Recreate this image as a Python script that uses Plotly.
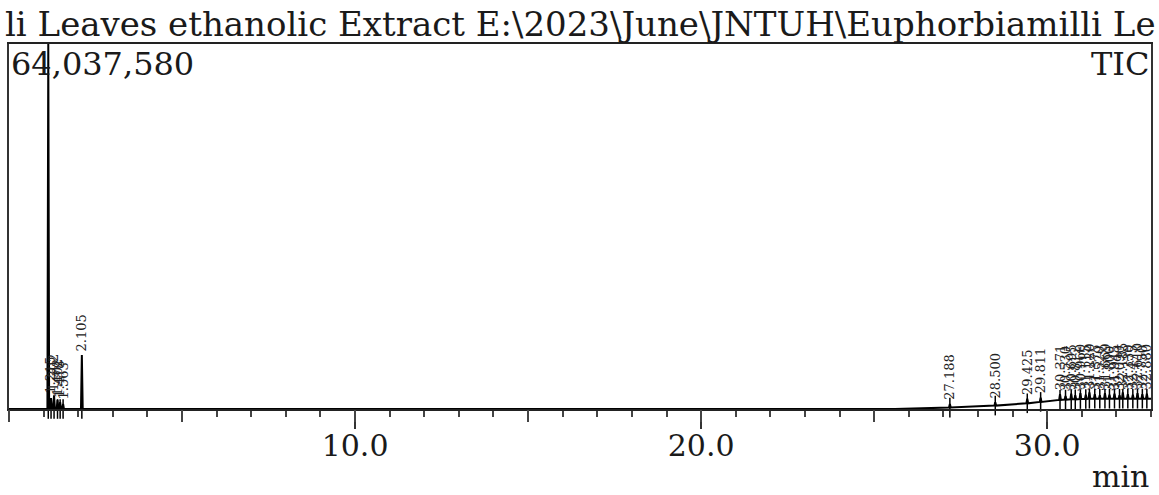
import plotly.graph_objects as go

# ---- data ----
title_text = "li Leaves ethanolic Extract E:\\2023\\June\\JNTUH\\Euphorbiamilli Le"
max_intensity = 64037580
x_max_min = 33.0

peak_rt = [1.135, 1.215, 1.302, 1.402, 1.478, 1.563, 2.105,
           27.188, 28.500, 29.425, 29.811, 30.371, 30.530, 30.695, 30.812,
           30.960, 31.115, 31.220, 31.375, 31.520, 31.669, 31.800, 31.945,
           32.090, 32.185, 32.330, 32.475, 32.610, 32.750, 32.880]
peak_height = [64037580, 1900000, 2400000, 1600000, 1200000, 900000, 9450000,
               900000, 1200000, 1800000, 2000000, 2600000, 2300000, 2700000, 2400000,
               2800000, 2500000, 2900000, 2600000, 2400000, 2800000, 2500000, 2700000,
               2400000, 2900000, 2600000, 2500000, 2800000, 2600000, 2700000]
peak_base = [0, 0, 0, 0, 0, 0, 0,
             250000, 600000, 1000000, 1250000, 1600000, 1650000, 1700000, 1700000,
             1750000, 1750000, 1800000, 1800000, 1800000, 1800000, 1800000, 1800000,
             1800000, 1800000, 1800000, 1800000, 1800000, 1800000, 1800000]
peak_labels = ["1.135", "1.215", "1.302", "1.402", "1.478", "1.563", "2.105",
               "27.188", "28.500", "29.425", "29.811", "30.371", "30.530", "30.695", "30.812",
               "30.960", "31.115", "31.220", "31.375", "31.520", "31.669", "31.800", "31.945",
               "32.090", "32.185", "32.330", "32.475", "32.610", "32.750", "32.880"]
show_label = [False, True, True, True, True, True, True] + [True] * 23

baseline_t = [0.0, 25.6, 33.0]
baseline_v = [0, 0, 1800000]

major_ticks = [10, 20, 30]
major_tick_text = ["10.0", "20.0", "30.0"]

# ---- build the trace (baseline anchors + peak triplets) ----
half_w = 0.025
pts = list(zip(baseline_t, baseline_v))
for rt, h, b in zip(peak_rt, peak_height, peak_base):
    pts += [(rt - half_w, b), (rt, h), (rt + half_w, b)]
pts.sort(key=lambda p: p[0])
tx = [p[0] for p in pts]
ty = [p[1] for p in pts]

SERIF = "DejaVu Serif"
INK = "#1a1a1a"

fig = go.Figure()
fig.add_trace(go.Scatter(x=tx, y=ty, mode="lines",
                         line=dict(color="black", width=2),
                         hoverinfo="skip", showlegend=False))
# peak integration marks
fig.add_trace(go.Scatter(x=peak_rt, y=peak_base, mode="markers",
                         marker=dict(symbol="line-ns", size=14,
                                     line=dict(color="black", width=1.5)),
                         cliponaxis=False, hoverinfo="skip", showlegend=False))
# helper trace for the 5-min tick axis
fig.add_trace(go.Scatter(x=[None], y=[None], xaxis="x2", showlegend=False,
                         hoverinfo="skip"))

for rt, h, lab, show in zip(peak_rt, peak_height, peak_labels, show_label):
    if not show:
        continue
    fig.add_annotation(x=rt, y=h, text=lab, textangle=-90, showarrow=False,
                       xanchor="center", yanchor="bottom", yshift=2,
                       font=dict(family=SERIF, size=13, color="#222222"))

# text items
fig.add_annotation(xref="paper", yref="paper", x=-0.005, y=1.055,
                   xanchor="left", yanchor="middle", text=title_text,
                   showarrow=False, font=dict(family=SERIF, size=34, color=INK))
fig.add_annotation(xref="paper", yref="paper", x=0.0, y=0.945,
                   xanchor="left", yanchor="middle", text="64,037,580",
                   showarrow=False, font=dict(family=SERIF, size=32, color=INK))
fig.add_annotation(xref="paper", yref="paper", x=1.0, y=0.945,
                   xanchor="right", yanchor="middle", text="TIC",
                   showarrow=False, font=dict(family=SERIF, size=32, color=INK))
fig.add_annotation(xref="paper", yref="paper", x=1.0, y=-0.186,
                   xanchor="right", yanchor="middle", text="min",
                   showarrow=False, font=dict(family=SERIF, size=30, color=INK))

fig.update_layout(
    width=1159, height=495,
    margin=dict(l=9, r=6, t=44, b=86),
    paper_bgcolor="white", plot_bgcolor="white",
    showlegend=False,
    xaxis=dict(range=[0, x_max_min], showgrid=False, zeroline=False,
               showline=True, mirror=True, linecolor="#222222", linewidth=2,
               tickmode="array", tickvals=major_ticks, ticktext=major_tick_text,
               ticks="outside", ticklen=18, tickwidth=1.5, tickcolor="#333333",
               ticklabelstandoff=-9,
               tickfont=dict(family=SERIF, size=30, color=INK),
               minor=dict(dtick=1, tick0=0, ticks="outside", ticklen=6,
                          tickwidth=1.5, tickcolor="#444444", showgrid=False)),
    xaxis2=dict(range=[0, x_max_min], overlaying="x", side="bottom",
                showgrid=False, zeroline=False, showline=False,
                tickmode="linear", tick0=0, dtick=5, ticks="outside",
                ticklen=12, tickwidth=1.5, tickcolor="#444444",
                showticklabels=False),
    yaxis=dict(range=[0, max_intensity], showgrid=False, zeroline=False,
               showline=True, mirror=True, linecolor="#333333", linewidth=2,
               ticks="", showticklabels=False),
)

fig.write_html("out.html", config={"displayModeBar": False},
               post_script="document.body.style.margin='0';"
                           "document.body.style.overflow='hidden';")
